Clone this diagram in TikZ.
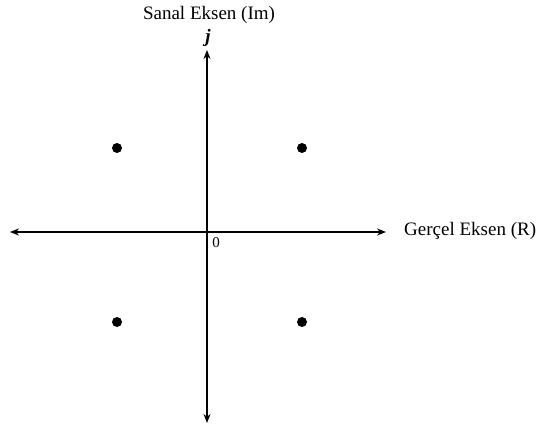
\documentclass[tikz,border=0pt]{standalone}
\usepackage{fontspec}
\setmainfont{Liberation Serif}
\usetikzlibrary{arrows.meta}
\begin{document}
\begin{tikzpicture}[x=1pt,y=-1pt,
  axis/.style={line width=1.8pt,{Stealth[length=9pt,width=7pt]}-{Stealth[length=9pt,width=7pt]}},
  pole/.style={circle,fill=black,inner sep=0pt,minimum size=10pt},
  lbl/.style={font=\fontsize{19}{21}\selectfont,inner sep=0pt}]
\useasboundingbox (0,0) rectangle (538,430);
\coordinate (L) at (10,232);
\coordinate (R) at (386,232);
\coordinate (T) at (207,50);
\coordinate (B) at (207,423);
\draw[axis] (L) -- (R);
\draw[axis] (B) -- (T);
\node[pole] (p1) at (117,148) {};
\node[pole] (p2) at (302,148) {};
\node[pole] (p3) at (117,322) {};
\node[pole] (p4) at (302,322) {};
\node[lbl] (im) at (209,15) {Sanal Eksen (Im)};
\node[lbl,font=\fontsize{19}{21}\selectfont\itshape\bfseries] (j) at (208,38) {j};
\node[lbl,anchor=west] (re) at (404,231) {Gerçel Eksen (R)};
\node[lbl,font=\fontsize{15}{17}\selectfont] (o) at (216,243) {0};
\end{tikzpicture}
\end{document}
